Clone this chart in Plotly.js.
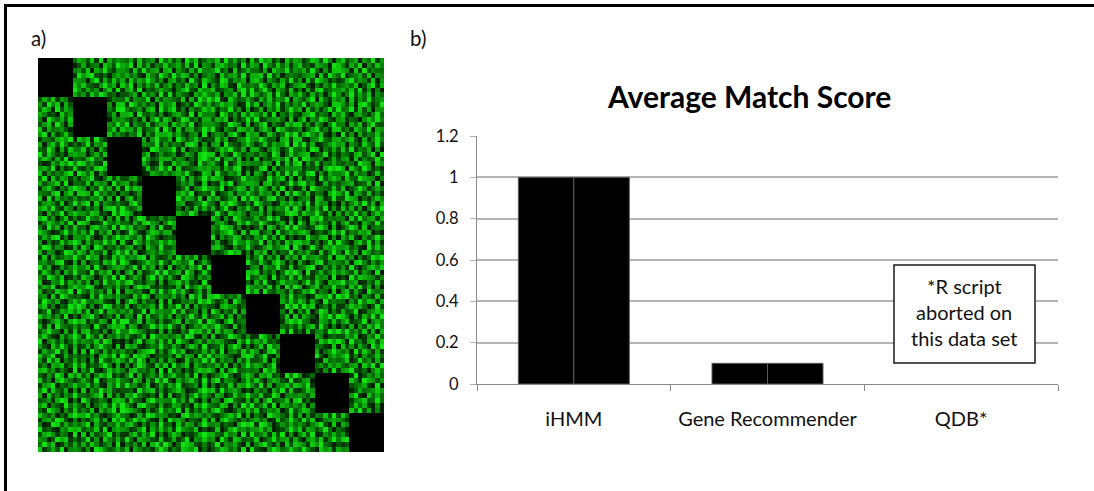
<!DOCTYPE html>
<html>
<head>
<meta charset="utf-8">
<script src="https://cdn.plot.ly/plotly-3.0.1.min.js"></script>
<style>html,body{margin:0;padding:0;background:#fff}#c{width:1094px;height:491px}</style>
</head>
<body>
<div id="c"></div>
<script>
var categories = ['iHMM', 'Gene Recommender', 'QDB*'];
var seriesA = [1, 0.1, null];
var seriesB = [1, 0.1, null];
var yTicks = [0, 0.2, 0.4, 0.6, 0.8, 1, 1.2];
var yTickLabels = ['0', '0.2', '0.4', '0.6', '0.8', '1', '1.2'];
var chartTitle = 'Average Match Score';
var panelLabels = ['a)', 'b)'];
var noteLines = ['*R script', 'aborted on', 'this data set'];
var blockSize = 8;
var texture = [
'5736285947','6382917465','4728356194','7361958246','5829473618','3967251847','6248739516','8357164926',
'3859264713','7245186397','6918372548','4573829165','2786451937','6195384726','8342765198','5274916385',
'6492738156','3817594266','5283946717','8164273955','6935182474','4271865936','5739416288','7618293544',
'4175863929','6893241575','7462185396','3958726146','5184673927','7829361454','3567182964','9245738165',
'7328495166','5169273847','2847596361','6735194286','4298365717','8516427393','6183975242','3794652816',
'2964175385','8432695718','5916374825','7253846191','6387219545','4962758136','7831526494','5648137927',
'5871342696','3746158292','6829143575','4157932866','8235617949','3694175282','5172893466','7483926151',
'8136529474','6285973413','3571846292','9264317585','4716582939','6358294175','8427361596','2593748164',
'3748265191','7916382544','8265491736','5438172969','6921853474','2748365917','5369184275','7182649356',
'6295817343','4537926188','2974635185','6813529747','3586741294','8157492636','4925763188','6371895249',
'4861937525','6182745399','5346278194','7925163486','8254936171','3716482595','7183625949','4592837166',
'7523184696','2958463717','7819435261','3674291855','5197362848','6482915373','2679354185','8316742594',
'5196473828','8374291656','4252716938','6149835277','3768152494','9235674181','5816497326','7243168595',
'3682951744','5718236495','9164382577','2857491366','6423975181','4791532868','8362741595','5174826933',
'8274563191','3496175828','6738245919','5182673496','9316428757','2685197434','6147935288','3528649176',
'6917248353','7235918464','2549163877','8473256191','4652793186','7138524969','3796482151','9261735484',
'2543786918','6819423575','5382716944','7196358423','3847125696','5963417828','8215694377','4683172595',
'7168395242','4926581737','8173654926','3542897161','6719432585','2483756919','5937124686','7164285393',
'4396172855','8251739464','3467219855','6928145373','2586943717','7315862494','4629815373','8392547161',
'9385241676','6147382959','7924581363','4613752898','8174296355','3652971484','6781349252','5427836919',
'5862739144','3794516282','5128963477','7365142896','4926738151','8143675929','2985461373','6718253494',
'3127486959','8463295171','6593741282','2857631946','7319248565','5476192838','9163825474','3542976186',
'6749152383','2538971466','4716283595','9182345767','5627489131','3891724656','6243517989','7185396242',
'8263547919','7481635922','8359127646','4675931287','2943658171','7516283949','4389162755','6927451383',
'4918376252','5692148373','3672895141','6148273595','8761234956','5329468171','7254193686','2843976515',
'7356829144','3827561946','7241638595','5936472181','3285914677','6178352494','8946127353','5672348191',
'2684153797','6153947282','9587132464','3724815696','6491358727','4862739151','2719654383','8135962474',
'5437916828','8729463515','4136279585','7268591343','9134726585','3756281949','6382541797','4917638252',
'8192745363','4365827191','6825314797','2594763818','5723681949','7248935161','4561872393','3976142585',
'3675281494','7918264353','2794856131','8367124595','4186973252','9634127585','7392856141','6258493717',
'6849327515','2536178949','5347962818','6941528373','7259316484','2817465939','5184739262','8372615949',
'4173592686','6487231959','8612739454','3875496121','3942867515','5726134898','3865942717','2749361585',
'7936148252','3954716282','7159824363','5426381797','8516297434','7349582161','6218793545','5183946727',
'2586473919','8612395474','4273896515','9731246585','2674138595','4963257181','9517364282','6824175393',
'5294716383','4178563929','6835417292','2658913747','6498725131','3718625949','5423896171','3697281454',
'8631259474','7392648151','3962158747','7184365292','5367941828','8246193575','7861342595','9254768131',
'3748925166','5841273696','8547296313','4392715868','9163587242','6593728141','3295478161','7482163595',
'6152384797','2736495818','2196374585','8625971343','3721496585','4917362858','8672514939','5316849272',
'4983651272','8519724363','6724185393','3571849262','7852163494','2368457919','5139427686','6735219484',
'7265139848','6274381595','9381256474','5719432686','4236978151','7581624393','6473182595','2947186353',
'2817346595','3967142858','4658917323','6293748151','8519347262','5926381747','2956743818','8361524979',
'5634892171','7145286939','7213586494','2864591373','5673218494','3842796151','7314892565','4718952636',
'9471263585','5829314676','3592847161','8146375929','3748692515','6175493282','4589126373','6293147858',
'3852617494','4293758161','6817235949','4572961383','9163425787','8253614979','6192473585','7538264191',
'6397481252','8651374929','2475169383','7319852646','6542187393','4761925383','8342756191','3194876525',
'8126593747','3716294585','8934256171','5684723191','2875936141','7392148565','2593841767','9467125383',
'4759132686','6982145373','5169783242','3271946858','7391254686','5638271949','7136825494','5284937161',
'7243865919','5374628191','7645218393','6958314727','4216783595','8194365272','3769254181','6827319545',
'5618297434','2183956474','3284971565','4736195828','8963547121','2475816393','5412876939','7935164282',
'3964721585','9546732181','5972634181','8125463979','5247196383','6319527484','8627319454','4163958727',
'6825143979','7261498353','8136457292','6492817353','3178652494','7853142969','4968135272','2586741393',
'2491376858','3815927646','4723918565','5938246171','9625381747','4269735181','6381497252','7349125686',
'8573629141','6794135282','6519283474','7163594282','4582716393','5927463818','2753186949','8516274939',
'4136852797','8253761949','9348175262','3681745929','7316924585','3148652797','9541276383','6823491575',
'7281954363','5419326878','2761349585','9427136585','6953182474','8692174353','7368294151','4271638595',
'3695417282','7834261595','5986423171','6215397848','2847613595','6315748292','4182563979','5946382717',
'5842173696','2963815474','7324819656','4573982161','8134975262','2974163585','6829751343','3758126494',
'9157362484','6548397121','4159267383','8296415737','5763218494','7583426191','3451286979','6194527838',
'6318495272','3726954181','8672135494','3741586292','3482697151','4829561373','7936542181','8362741959',
'2745936181','8195273646','3415789262','6958124373','7291563848','6138947252','5283714696','4619385272',
'8469127353','4361785929','6297851343','5283761949','4675312898','3592164787','2648931575','7925163484',
'6294815373','5172943686','3849615272','7512836494','9264517383','3481726595','6739218454','5813946272',
'3517682494','8243695171','6159732848','2946817535','4738162595','7625914383','2918463757','4367185929',
'7846253191','6392148575','2784536191','9351426878','6182793454','5196823747','8457316292','6793241585',
'4263971858','3715869242','5917246383','6843729151','3579412686','2768341959','6124957383','8529136474',
'8351796424','7429136585','4286173959','3174685292','7926531484','8415763292','3671845929','4185297636',
'2679143585','5836217494','9562481373','7592346181','5143827696','3927156848','7592418363','6834572191',
'5928437161','8164957323','3419578262','4685123797','8294675131','6351749282','2486935171','9213745686',
'7183526494','4357918262','7695324181','8136259474','2761384595','4823971565','6537814292','3569218474',
'3462798151','9623541787','2843179565','5947283161','6518943272','7169345828','9241856373','7125683494',
'6815329474','2714683959','6318954272','3762418595','4387162959','3582917646','4716329585','5938472161',
'4297516383','5381746929','8753162494','6491825373','7952136484','8246571393','5873291646','2684937151',
'8536142797','7946213585','4127398565','2318957646','3246859171','5319764282','7162548393','8417563929',
'2674983151','4258371969','3596842171','9675143282','8179642535','7461283595','3948125676','4293671858',
'5129837464','6917325484','7841526393','4183762595','5624317989','2985136474','6425793181','7561829343',
'9342165878','3548291676','5236917484','7296548131','2813795646','6847123595','8276359414','3184926575',
'3786254191','8173469252','2683749151','5861324797','7438561929','4572839161','5839126474','6257913848',
'6513978242','4926185373','9417653282','3724916585','6195287343','8135946727','3167482595','8946325171',
'4958126373','7385246191','5362817949','6149873252','4926573181','5794261838','7528694313','2375186949',
'8247391565','2619853474','8175342696','2538769141','3587462919','3216974585','4953186727','5682317494'
];

var z = [];
for (var r = 0; r < 80; r++) {
  var row = [];
  var text = '';
  for (var g = 0; g < 8; g++) text += texture[r * 8 + g];
  for (var c = 0; c < 80; c++) {
    var sameBlock = Math.floor(r / blockSize) === Math.floor(c / blockSize);
    row.push(sameBlock ? 0 : Number(text.charAt(c)));
  }
  z.push(row);
}

var W = 1094, H = 491;
function px(x) { return x / W; }
function py(y) { return 1 - y / H; }
var fam = 'Lato, "Open Sans", sans-serif';
var ink = '#111111';

var traces = [
  {type: 'heatmap', z: z, xaxis: 'x', yaxis: 'y', showscale: false, hoverinfo: 'skip', zmin: 0, zmax: 9, zsmooth: false,
   colorscale: [[0, '#000000'], [0.12, '#012201'], [0.45, '#056c05'], [0.75, '#0aa80a'], [1, '#12e212']]},
  {type: 'bar', name: 'A', x: categories, y: seriesA, xaxis: 'x2', yaxis: 'y2',
   marker: {color: '#000000', line: {color: '#5a5a5a', width: 1}}},
  {type: 'bar', name: 'B', x: categories, y: seriesB, xaxis: 'x2', yaxis: 'y2',
   marker: {color: '#000000', line: {color: '#5a5a5a', width: 1}}}
];

function note(x, y, anchor, text, size, color) {
  return {xref: 'paper', yref: 'paper', x: px(x), y: py(y), xanchor: anchor, yanchor: 'middle', showarrow: false, text: text,
    font: {family: fam, size: size, color: color}};
}

var layout = {
  width: W, height: H, margin: {l: 0, r: 0, t: 0, b: 0}, showlegend: false,
  paper_bgcolor: '#ffffff', plot_bgcolor: 'rgba(0,0,0,0)',
  barmode: 'group', bargap: 0.427, bargroupgap: 0,
  xaxis: {domain: [px(38), px(384)], range: [-0.5, 79.5], visible: false, fixedrange: true},
  yaxis: {domain: [py(452), py(58)], range: [79.5, -0.5], visible: false, fixedrange: true},
  xaxis2: {domain: [px(477), px(1058)], anchor: 'y2', type: 'category', range: [-0.5, 2.5], tickson: 'boundaries',
    ticks: 'outside', ticklen: 6, tickcolor: '#8a8a8a', tickwidth: 1, showline: true, linecolor: '#8a8a8a', linewidth: 1,
    showgrid: false, tickfont: {family: fam, size: 20, color: ink}, ticklabelstandoff: 17, automargin: false, zeroline: false},
  yaxis2: {domain: [py(384), py(136)], anchor: 'x2', range: [0, 1.2], tickvals: yTicks, ticktext: yTickLabels,
    ticks: 'outside', ticklen: 6, tickcolor: '#b0b0b0', tickwidth: 1, showline: true, linecolor: '#8a8a8a', linewidth: 1,
    showgrid: true, gridcolor: '#b4b4b4', gridwidth: 1.5, tickfont: {family: fam, size: 16.5, color: ink}, ticklabelstandoff: 8, automargin: false, zeroline: false},
  shapes: [
    {type: 'line', xref: 'paper', yref: 'paper', x0: px(4), x1: 1, y0: py(5.5), y1: py(5.5), line: {color: '#000', width: 3}},
    {type: 'line', xref: 'paper', yref: 'paper', x0: px(5.5), x1: px(5.5), y0: py(4), y1: 0, line: {color: '#000', width: 3}},
    {type: 'rect', xref: 'paper', yref: 'paper', x0: px(894), x1: px(1035), y0: py(265), y1: py(363), fillcolor: '#fff', line: {color: '#1a1a1a', width: 1.5}, layer: 'above'}
  ],
  annotations: [
    note(29, 38, 'left', panelLabels[0], 20.5, ink),
    note(408, 38, 'left', panelLabels[1], 20.5, ink),
    note(749, 96, 'center', '<b>' + chartTitle + '</b>', 30, '#000'),
    note(964, 286, 'center', noteLines[0], 20, ink),
    note(964, 312, 'center', noteLines[1], 20, ink),
    note(964, 338, 'center', noteLines[2], 20, ink)
  ]
};
Plotly.newPlot('c', traces, layout, {displayModeBar: false, responsive: false});
</script>
</body>
</html>
